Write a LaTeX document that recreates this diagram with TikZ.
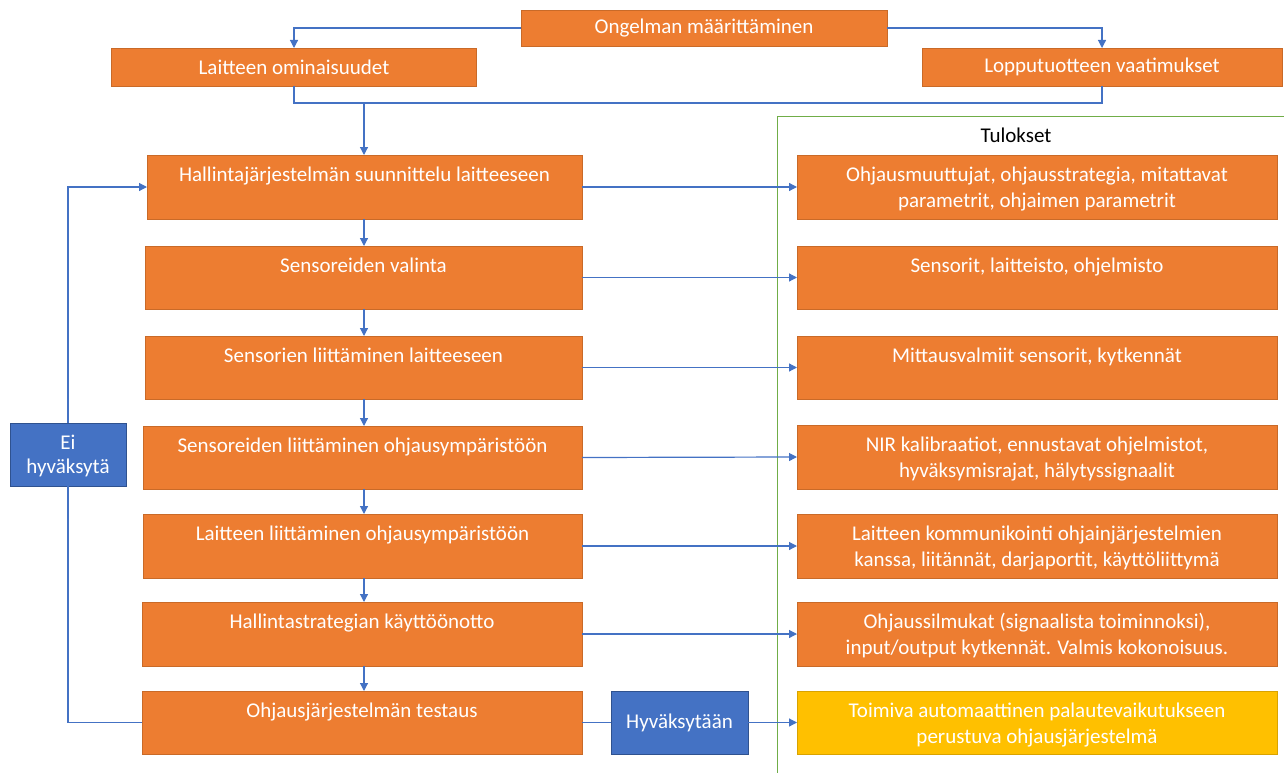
\documentclass[tikz,border=0pt]{standalone}
\usepackage{fontspec}
\setmainfont{Carlito}
\usetikzlibrary{arrows.meta}
\definecolor{org}{HTML}{ED7D31}
\definecolor{orgd}{HTML}{C96A28}
\definecolor{blu}{HTML}{4472C4}
\definecolor{blud}{HTML}{2F528F}
\definecolor{yel}{HTML}{FFC000}
\definecolor{yeld}{HTML}{D9A300}
\definecolor{grn}{HTML}{70AD47}
\newcommand{\tb}[3]{\parbox[c][#2][t]{#1}{\centering\rule{0pt}{26pt}#3}}
\newcommand{\cb}[3]{\parbox[c][#2][c]{#1}{\centering #3}}
\tikzset{
  x=1pt, y=-1pt,
  base/.style={inner sep=0pt, outer sep=0pt, line width=0.9pt, text=white,
    font=\fontsize{21}{26}\selectfont},
  obox/.style={base, fill=org, draw=orgd},
  bbox/.style={base, fill=blu, draw=blud},
  ybox/.style={base, fill=yel, draw=yeld},
  arr/.style={draw=blu, line width=1.2pt, -{Triangle[length=8pt,width=8pt]}},
  ln/.style={draw=blu, line width=1.2pt},
}
\begin{document}
\begin{tikzpicture}
\useasboundingbox (0,0) rectangle (1284,773);
% top
\node[obox, minimum width=366pt, minimum height=36pt] (ong) at (704,28) {Ongelman määrittäminen};
\node[obox, minimum width=365pt, minimum height=38pt] (lo) at (294,67) {Laitteen ominaisuudet};
\node[obox, minimum width=360pt, minimum height=38pt] (lv) at (1102,67) {Lopputuotteen vaatimukset};
% left column
\node[obox] (h1) at (364.5,187) {\tb{435pt}{64pt}{Hallintajärjestelmän suunnittelu laitteeseen}};
\node[obox] (h2) at (363.5,277.5) {\tb{437pt}{63pt}{Sensoreiden valinta}};
\node[obox] (h3) at (363.5,367.5) {\tb{437pt}{63pt}{Sensorien liittäminen laitteeseen}};
\node[obox] (h4) at (362.5,457.5) {\tb{439pt}{63pt}{Sensoreiden liittäminen ohjausympäristöön}};
\node[obox] (h5) at (362.5,546) {\tb{439pt}{64pt}{Laitteen liittäminen ohjausympäristöön}};
\node[obox] (h6) at (362,634) {\tb{440pt}{64pt}{Hallintastrategian käyttöönotto}};
\node[obox] (h7) at (362,722.5) {\tb{440pt}{63pt}{Ohjausjärjestelmän testaus}};
% results
\node[obox] (r1) at (1037,187) {\tb{480pt}{64pt}{Ohjausmuuttujat, ohjausstrategia, mitattavat\\parametrit, ohjaimen parametrit}};
\node[obox] (r2) at (1037,277.5) {\tb{480pt}{63pt}{Sensorit, laitteisto, ohjelmisto}};
\node[obox] (r3) at (1037,367.5) {\tb{480pt}{63pt}{Mittausvalmiit sensorit, kytkennät}};
\node[obox] (r4) at (1037,457) {\tb{480pt}{64pt}{NIR kalibraatiot, ennustavat ohjelmistot,\\hyväksymisrajat, hälytyssignaalit}};
\node[obox] (r5) at (1037,546) {\tb{480pt}{64pt}{Laitteen kommunikointi ohjainjärjestelmien\\kanssa, liitännät, darjaportit, käyttöliittymä}};
\node[obox] (r6) at (1037,634) {\tb{480pt}{64pt}{Ohjaussilmukat (signaalista toiminnoksi),\\input/output kytkennät. Valmis kokonoisuus.}};
\node[ybox] (r7) at (1037,722.5) {\tb{480pt}{63pt}{Toimiva automaattinen palautevaikutukseen\\perustuva ohjausjärjestelmä}};
% decisions
\node[bbox] (ei) at (68,454.5) {\tb{116pt}{63pt}{\vspace*{-2pt}Ei\\hyväksytä}};
\node[bbox] (hy) at (679.5,722.5) {\cb{137pt}{63pt}{Hyväksytään}};
% Tulokset frame
\coordinate (gb) at (777,773);
\coordinate (gt) at (777,117);
\coordinate (gr) at (1284,117);
\draw[grn, line width=1pt] (gb) -- (gt) -- (gr);
\node[font=\fontsize{21}{26}\selectfont, text=black, inner sep=0pt] (tul) at (1016,135) {Tulokset};
% connectors top
\draw[arr] (ong.west) -| (lo.north);
\draw[arr] (ong.east) -| (lv.north);
\coordinate (mj) at (364,103);
\draw[ln] (lo.south) -- (lo.south |- mj) -- (lv.south |- mj) -- (lv.south);
\draw[arr] (mj) -- (h1.north -| mj);
% vertical chain
\coordinate (vx) at (364,0);
\draw[arr] (h1.south -| vx) -- (h2.north -| vx);
\draw[arr] (h2.south -| vx) -- (h3.north -| vx);
\draw[arr] (h3.south -| vx) -- (h4.north -| vx);
\draw[arr] (h4.south -| vx) -- (h5.north -| vx);
\draw[arr] (h5.south -| vx) -- (h6.north -| vx);
\draw[arr] (h6.south -| vx) -- (h7.north -| vx);
% horizontal to results
\draw[arr] (h1.east) -- (r1.west);
\draw[arr] (h2.east) -- (r2.west);
\draw[arr] (h3.east) -- (r3.west);
\draw[arr] (h4.east) -- (r4.west);
\draw[arr] (h5.east) -- (r5.west);
\draw[arr] (h6.east) -- (r6.west);
\draw[ln] (h7.east) -- (hy.west);
\draw[arr] (hy.east) -- (r7.west);
% loop back
\draw[ln] (h7.west) -| (ei.south);
\draw[arr] (ei.north) |- (h1.west);
\end{tikzpicture}
\end{document}
